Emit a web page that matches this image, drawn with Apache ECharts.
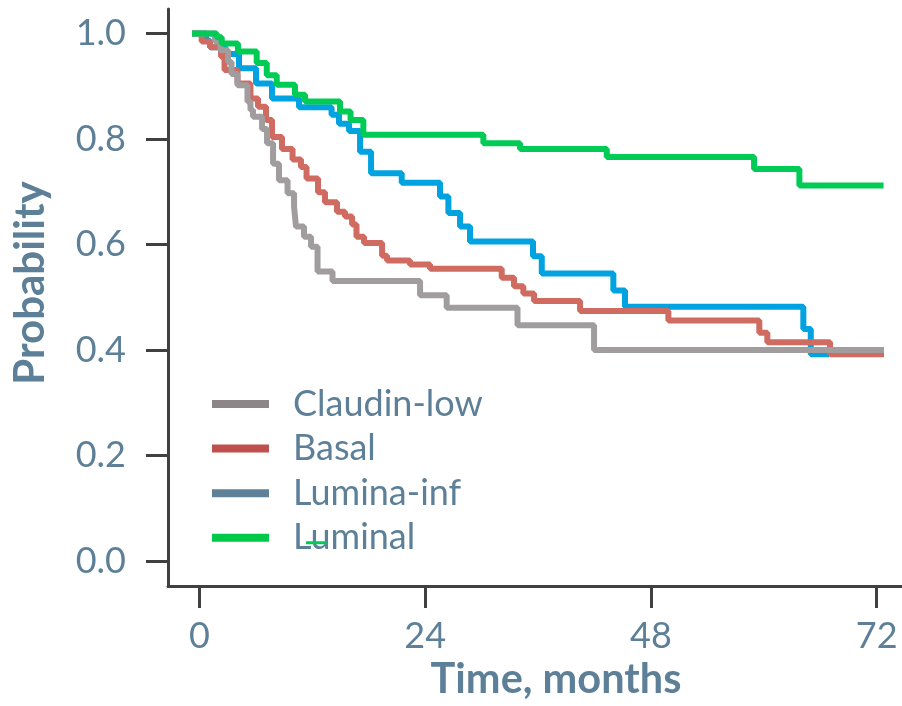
<!DOCTYPE html>
<html>
<head>
<meta charset="utf-8">
<script src="https://cdn.jsdelivr.net/npm/echarts@6/dist/echarts.min.js"></script>
<style>
html,body{margin:0;padding:0;background:#fff;}
#chart{width:902px;height:706px;}
</style>
</head>
<body>
<div id="chart"></div>
<script>
// ---- data (months, survival probability) ----
var seriesNames = ['Claudin-low', 'Basal', 'Lumina-inf', 'Luminal'];
var xTicks = [0, 24, 48, 72];
var yTicks = [0, 0.2, 0.4, 0.6, 0.8, 1.0];

var claudinT = [-0.8, 1.65, 2.23, 3.03, 3.40, 4.04, 5.10, 5.42, 5.69, 6.65, 7.18, 7.82, 8.45, 9.36, 10.05, 10.26, 11.11, 11.86, 12.55, 14.14, 23.45, 26.28, 33.81, 41.95, 72.78];
var claudinS = [1.0, 0.985, 0.968, 0.946, 0.923, 0.902, 0.871, 0.855, 0.842, 0.819, 0.792, 0.753, 0.722, 0.697, 0.672, 0.634, 0.615, 0.596, 0.549, 0.531, 0.504, 0.480, 0.447, 0.400, 0.400];

var basalT = [-0.8, 0.23, 1.12, 2.29, 2.66, 4.04, 5.42, 6.22, 7.07, 7.71, 8.77, 9.89, 10.79, 11.38, 12.60, 13.34, 14.62, 15.47, 16.22, 16.69, 17.49, 19.41, 19.94, 22.38, 24.51, 32.13, 33.44, 34.43, 35.57, 40.46, 49.85, 59.52, 60.37, 67.04, 72.78];
var basalS = [1.0, 0.985, 0.974, 0.956, 0.931, 0.905, 0.877, 0.861, 0.836, 0.804, 0.781, 0.761, 0.747, 0.725, 0.699, 0.680, 0.662, 0.653, 0.638, 0.615, 0.603, 0.579, 0.570, 0.562, 0.554, 0.537, 0.521, 0.507, 0.493, 0.474, 0.456, 0.433, 0.415, 0.392, 0.392];

var luminaInfT = [-0.8, 0.69, 1.12, 2.76, 4.20, 6.01, 7.71, 10.58, 14.04, 14.83, 15.90, 17.07, 18.24, 21.50, 25.57, 26.46, 27.70, 28.76, 35.46, 36.39, 44.00, 45.24, 64.20, 64.99, 66.93];
var luminaInfS = [1.0, 0.986, 0.974, 0.961, 0.934, 0.905, 0.877, 0.860, 0.846, 0.829, 0.815, 0.776, 0.735, 0.717, 0.691, 0.660, 0.634, 0.606, 0.578, 0.545, 0.513, 0.482, 0.440, 0.392, 0.392];

var luminalT = [-0.8, 1.83, 2.36, 4.09, 6.08, 7.15, 8.21, 10.15, 11.22, 14.94, 16.06, 17.42, 30.18, 34.08, 43.30, 58.96, 63.78, 72.73];
var luminalS = [1.0, 0.993, 0.981, 0.966, 0.944, 0.921, 0.903, 0.884, 0.871, 0.852, 0.836, 0.808, 0.792, 0.781, 0.766, 0.743, 0.712, 0.712];

// small stray green segment visible near the legend in the reference
var strayT = [11.32, 13.52];
var strayS = [0.035, 0.035];

function pairs(t, s) { return t.map(function (v, i) { return [v, s[i]]; }); }

var lineColors = ['#a19d9f', '#cf6b61', '#00a3e0', '#00cc55'];
var legendColors = ['#8c8689', '#c0504d', '#5e8199', '#00c94a'];
var textColor = '#5d8098';
var axisColor = '#404040';
var FONT = 'Lato';

var chart = echarts.init(document.getElementById('chart'), null, {renderer: 'canvas'});

function kmSeries(name, data, color, z) {
  return {
    name: name, type: 'line', step: 'end', data: data,
    showSymbol: false, symbol: 'none', z: z,
    lineStyle: {color: color, width: 6},
    itemStyle: {color: color},
    animation: false
  };
}

var option = {
  animation: false,
  grid: {left: 168, top: 9, right: 0, bottom: 119, containLabel: false},
  xAxis: {
    type: 'value', min: -3.35, max: 74.69,
    name: 'Time, months', nameLocation: 'middle', nameGap: 70,
    nameTextStyle: {color: textColor, fontFamily: FONT, fontWeight: 'bold', fontSize: 41.5, padding: [0, 0, 0, 42]},
    axisLine: {show: true, onZero: false, lineStyle: {color: axisColor, width: 3}},
    axisTick: {show: true, inside: false, length: 22, customValues: xTicks, lineStyle: {color: axisColor, width: 3}},
    axisLabel: {show: true, customValues: xTicks, margin: 32, color: textColor, fontFamily: FONT, fontSize: 36},
    splitLine: {show: false}
  },
  yAxis: {
    type: 'value', min: -0.0473, max: 1.0464,
    axisLine: {show: true, onZero: false, lineStyle: {color: axisColor, width: 3}},
    axisTick: {show: true, inside: false, length: 22, customValues: yTicks, lineStyle: {color: axisColor, width: 3}},
    axisLabel: {show: true, customValues: yTicks, margin: 42, color: textColor, fontFamily: FONT, fontSize: 36,
      formatter: function (v) { return v.toFixed(1); }},
    splitLine: {show: false}
  },
  legend: {
    orient: 'vertical', left: 207, top: 381,
    icon: 'rect', itemWidth: 57, itemHeight: 8, itemGap: 8.6,
    selectedMode: false,
    textStyle: {color: textColor, fontFamily: FONT, fontSize: 36, lineHeight: 36, padding: [0, 0, 0, 19]},
    data: seriesNames.map(function (n, i) {
      return {name: n, itemStyle: {color: legendColors[i]}, lineStyle: {color: legendColors[i]}};
    })
  },
  graphic: [{
    type: 'text', x: 30, y: 283, rotation: Math.PI / 2,
    style: {text: 'Probability', fill: textColor, font: 'bold 42px Lato', align: 'center', verticalAlign: 'middle'}
  }],
  series: [
    kmSeries(seriesNames[0], pairs(claudinT, claudinS), lineColors[0], 4),
    kmSeries(seriesNames[1], pairs(basalT, basalS), lineColors[1], 3),
    kmSeries(seriesNames[2], pairs(luminaInfT, luminaInfS), lineColors[2], 2),
    kmSeries(seriesNames[3], pairs(luminalT, luminalS), lineColors[3], 5),
    {name: 'stray', type: 'line', data: pairs(strayT, strayS), showSymbol: false, symbol: 'none', z: 6,
      lineStyle: {color: lineColors[3], width: 3}, animation: false}
  ]
};
chart.setOption(option);
</script>
</body>
</html>
